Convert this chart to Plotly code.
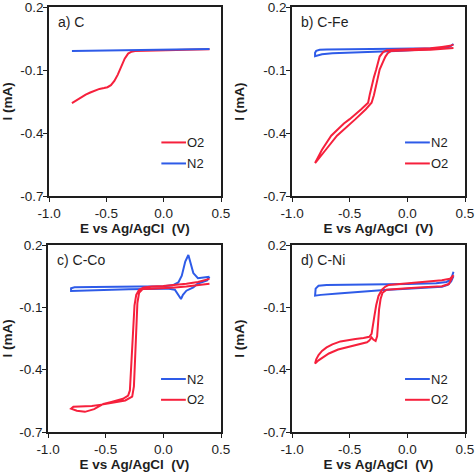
import plotly.graph_objects as go

# ---------------- data ----------------
E_TICKS = [-1.0, -0.5, 0.0, 0.5]
E_TICK_TEXT = ["-1.0", "-0.5", "0.0", "0.5"]
I_TICKS = [0.2, -0.1, -0.4, -0.7]
I_TICK_TEXT = ["0.2", "-0.1", "-0.4", "-0.7"]
PANEL_TITLES = ["a) C", "b) C-Fe", "c) C-Co", "d) C-Ni"]
X_TITLE = "E vs Ag/AgCl\u00a0 (V)"
Y_TITLE = "I (mA)"

# a) C
a_o2_E = [-0.80, -0.76, -0.72, -0.68, -0.64, -0.60, -0.56, -0.52, -0.49, -0.46, -0.43, -0.40,
          -0.37, -0.34, -0.31, -0.28, -0.25, -0.20, 0.00, 0.20, 0.40]
a_o2_I = [-0.258, -0.243, -0.229, -0.217, -0.207, -0.198, -0.190, -0.186, -0.182, -0.172, -0.152, -0.122,
          -0.083, -0.046, -0.022, -0.013, -0.010, -0.009, -0.007, -0.004, -0.001]
a_n2_E = [-0.80, -0.40, 0.00, 0.40]
a_n2_I = [-0.009, -0.006, -0.003, 0.000]

# b) C-Fe
b_n2_E = [0.40, 0.37, 0.33, 0.25, 0.10, -0.10, -0.30, -0.50, -0.65, -0.74, -0.78, -0.80,
          -0.80, -0.79, -0.76, -0.70, -0.50, -0.30, -0.10, 0.10, 0.25, 0.33, 0.37, 0.40]
b_n2_I = [0.024, 0.012, 0.006, 0.002, -0.004, -0.009, -0.012, -0.016, -0.020, -0.025, -0.029, -0.034,
          -0.018, -0.009, -0.004, -0.002, -0.001, 0.000, 0.001, 0.002, 0.004, 0.007, 0.012, 0.024]
b_o2_E = [0.40, 0.30, 0.20, 0.10, 0.00, -0.10, -0.14, -0.17, -0.19, -0.21, -0.24, -0.255, -0.27,
          -0.29, -0.31, -0.36, -0.45, -0.55, -0.61, -0.70, -0.80,
          -0.74, -0.66, -0.55, -0.50, -0.40, -0.34, -0.325, -0.31, -0.29, -0.27, -0.24, -0.21,
          -0.18, -0.10, 0.00, 0.10, 0.20, 0.30, 0.37, 0.40]
b_o2_I = [0.005, 0.000, -0.003, -0.005, -0.006, -0.007, -0.009, -0.020, -0.036, -0.060, -0.098, -0.135, -0.177,
          -0.220, -0.256, -0.287, -0.334, -0.385, -0.413, -0.475, -0.543,
          -0.480, -0.413, -0.355, -0.334, -0.287, -0.256, -0.215, -0.177, -0.135, -0.098, -0.036, -0.015,
          -0.006, -0.003, -0.001, 0.001, 0.004, 0.010, 0.015, 0.021]

# c) C-Co
c_n2_E = [0.40, 0.38, 0.30, 0.26, 0.20, 0.17, 0.153, 0.13, 0.10, 0.05, 0.00, -0.30, -0.60, -0.75, -0.80,
          -0.80, -0.77, -0.60, -0.30, 0.00, 0.08, 0.13, 0.16, 0.19, 0.217, 0.235, 0.26, 0.30, 0.35, 0.40]
c_n2_I = [0.047, 0.030, 0.015, -0.004, -0.020, -0.040, -0.060, -0.038, -0.015, -0.011, -0.010, -0.013, -0.016, -0.019, -0.021,
          -0.008, -0.003, -0.002, -0.001, 0.002, 0.006, 0.020, 0.052, 0.120, 0.152, 0.115, 0.065, 0.040, 0.043, 0.047]
c_o2_E = [0.40, 0.30, 0.20, 0.10, 0.00, -0.10, -0.17, -0.21, -0.235, -0.25, -0.26, -0.27, -0.28, -0.29, -0.305,
          -0.35, -0.45, -0.52, -0.60, -0.68, -0.75, -0.80,
          -0.78, -0.72, -0.62, -0.52, -0.44, -0.37, -0.33, -0.27, -0.255, -0.245, -0.235, -0.225, -0.21,
          -0.18, -0.10, 0.00, 0.10, 0.20, 0.30, 0.40]
c_o2_I = [0.037, 0.022, 0.014, 0.008, 0.003, 0.000, -0.004, -0.015, -0.040, -0.090, -0.200, -0.320, -0.430, -0.500, -0.525,
          -0.540, -0.555, -0.565, -0.590, -0.603, -0.598, -0.588,
          -0.578, -0.577, -0.575, -0.567, -0.558, -0.552, -0.548, -0.530, -0.480, -0.350, -0.200, -0.080, -0.030,
          -0.012, -0.010, -0.008, -0.004, 0.000, 0.005, 0.013]

# d) C-Ni
d_n2_E = [0.40, 0.38, 0.34, 0.25, 0.00, -0.40, -0.70, -0.77, -0.795, -0.80,
          -0.75, -0.60, -0.40, -0.20, 0.00, 0.20, 0.30, 0.35, 0.38, 0.40]
d_n2_I = [0.071, 0.035, 0.022, 0.016, 0.012, 0.010, 0.008, 0.004, -0.010, -0.044,
          -0.040, -0.034, -0.025, -0.017, -0.011, -0.005, -0.001, 0.008, 0.025, 0.050]
d_o2_E = [0.40, 0.37, 0.30, 0.10, -0.10, -0.16, -0.19, -0.22, -0.25, -0.27, -0.285, -0.30, -0.31, -0.33,
          -0.38, -0.45, -0.50, -0.58, -0.65, -0.70, -0.74, -0.77, -0.79, -0.80,
          -0.77, -0.73, -0.68, -0.60, -0.52, -0.45, -0.39, -0.35, -0.33, -0.31, -0.295, -0.275, -0.262,
          -0.255, -0.245, -0.232, -0.215, -0.18, -0.12, 0.00, 0.10, 0.20, 0.30, 0.36, 0.40]
d_o2_I = [0.055, 0.038, 0.030, 0.020, 0.012, 0.008, 0.000, -0.015, -0.045, -0.090, -0.140, -0.190, -0.228, -0.242,
          -0.248, -0.252, -0.256, -0.264, -0.278, -0.293, -0.310, -0.330, -0.350, -0.370,
          -0.355, -0.340, -0.322, -0.303, -0.292, -0.285, -0.277, -0.268, -0.260, -0.245, -0.255, -0.262, -0.240,
          -0.180, -0.110, -0.060, -0.030, -0.015, -0.012, -0.008, -0.005, -0.002, 0.002, 0.012, 0.055]

# ---------------- style ----------------
RED = "#F6203C"
BLUE = "#2E5BE8"
AXIS_COLOR = "#1E1E1E"
FONT = "Liberation Sans, Arial, sans-serif"

panels = [
    [("O2", a_o2_E, a_o2_I, RED), ("N2", a_n2_E, a_n2_I, BLUE)],
    [("N2", b_n2_E, b_n2_I, BLUE), ("O2", b_o2_E, b_o2_I, RED)],
    [("N2", c_n2_E, c_n2_I, BLUE), ("O2", c_o2_E, c_o2_I, RED)],
    [("N2", d_n2_E, d_n2_I, BLUE), ("O2", d_o2_E, d_o2_I, RED)],
]

X_DOMAINS = [[49 / 475, 221 / 475], [292 / 475, 465 / 475], [48 / 475, 221 / 475], [292 / 475, 465 / 475]]
Y_DOMAINS = [[1 - 196 / 474, 1 - 7 / 474], [1 - 196 / 474, 1 - 7 / 474],
             [1 - 432 / 474, 1 - 245 / 474], [1 - 432 / 474, 1 - 245 / 474]]

fig = go.Figure()
layout = dict(
    width=475, height=474, autosize=False,
    margin=dict(l=0, r=0, t=0, b=0, pad=0),
    paper_bgcolor="white", plot_bgcolor="white",
    showlegend=False,
    font=dict(family=FONT, size=13, color="#1E1E1E"),
)
annotations = []
shapes = []

for k, series in enumerate(panels):
    idx = "" if k == 0 else str(k + 1)
    xa, ya = "x" + idx, "y" + idx
    for name, E, I, color in series:
        fig.add_trace(go.Scatter(x=E, y=I, mode="lines", name=name,
                                 line=dict(color=color, width=2),
                                 xaxis=xa, yaxis=ya, hoverinfo="skip"))
    common = dict(showline=True, linecolor=AXIS_COLOR, linewidth=1.5, mirror=True,
                  ticks="outside", ticklen=4, tickwidth=1.2, tickcolor=AXIS_COLOR,
                  showgrid=False, zeroline=False, automargin=False,
                  ticklabeloverflow="allow",
                  tickfont=dict(family=FONT, size=13.5, color="#1E1E1E"))
    layout["xaxis" + idx] = dict(common, domain=X_DOMAINS[k], range=[-1.0, 0.5],
                                 tickvals=E_TICKS, ticktext=E_TICK_TEXT, anchor=ya,
                                 title=dict(text=X_TITLE, standoff=4,
                                            font=dict(family=FONT, size=13.5, weight="bold", color="#1E1E1E")))
    layout["yaxis" + idx] = dict(common, domain=Y_DOMAINS[k], range=[-0.7, 0.2],
                                 tickvals=I_TICKS, ticktext=I_TICK_TEXT, anchor=xa,
                                 ticklabelstandoff=-3,
                                 title=dict(text=Y_TITLE, standoff=16,
                                            font=dict(family=FONT, size=13.5, weight="bold", color="#1E1E1E")))
    # panel label
    annotations.append(dict(text=PANEL_TITLES[k], xref=xa + " domain", yref=ya + " domain",
                            x=0.04, y=0.92, xanchor="left", yanchor="middle", showarrow=False,
                            font=dict(family=FONT, size=14, color="#1E1E1E")))
    # legend (drawn in the panel's own data coordinates)
    for j, (name, E, I, color) in enumerate(series):
        ly = -0.445 - 0.1 * j
        shapes.append(dict(type="line", xref=xa, yref=ya, x0=-0.02, x1=0.195, y0=ly, y1=ly,
                           line=dict(color=color, width=2)))
        annotations.append(dict(text=name, xref=xa, yref=ya, x=0.195, y=ly, xanchor="left",
                                yanchor="middle", showarrow=False, xshift=-1,
                                font=dict(family=FONT, size=13, color="#1E1E1E")))

layout["annotations"] = annotations
layout["shapes"] = shapes
fig.update_layout(**layout)
fig.write_html("out.html", config={"displayModeBar": False},
               post_script="document.body.style.margin='0';document.body.style.padding='0';")
